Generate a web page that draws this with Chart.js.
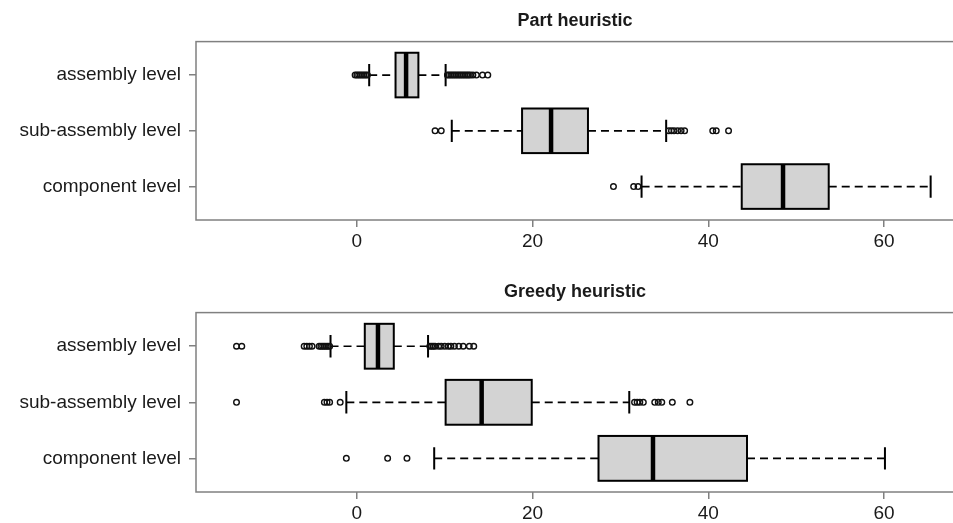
<!DOCTYPE html>
<html>
<head>
<meta charset="utf-8">
<title>Heuristic boxplots</title>
<script src="https://cdn.jsdelivr.net/npm/chart.js@4.4.0/dist/chart.umd.min.js"></script>
<style>
  html, body { margin: 0; padding: 0; background: #fff; }
  body { width: 953px; height: 523px; position: relative; overflow: hidden; }
  .panel { position: absolute; left: 0; width: 953px; }
  #partPanel { top: 0; height: 262px; }
  #greedyPanel { top: 271px; height: 252px; }
</style>
</head>
<body>
<div class="panel" id="partPanel"><canvas id="partChart"></canvas></div>
<div class="panel" id="greedyPanel"><canvas id="greedyChart"></canvas></div>
<script>
// rows, top to bottom
const levels = ['assembly level', 'sub-assembly level', 'component level'];
const xTicks = [0, 20, 40, 60];

// Part heuristic: five-number summary per level
const partLow    = [1.4, 10.8, 32.4];
const partQ1     = [4.4, 18.8, 43.8];
const partMedian = [5.6, 22.1, 48.5];
const partQ3     = [7.0, 26.3, 53.7];
const partHigh   = [10.1, 35.2, 65.3];
const partOutliers = [
  [-0.2, 0.0, 0.2, 0.4, 0.6, 0.8, 1.0, 1.2,
   10.3, 10.5, 10.7, 10.9, 11.1, 11.3, 11.5, 11.7, 11.9, 12.1, 12.3, 12.5, 12.7, 12.9, 13.2, 13.6, 14.3, 14.9],
  [8.9, 9.6, 35.5, 35.8, 36.1, 36.5, 36.9, 37.3, 40.5, 40.9, 42.3],
  [29.2, 31.5, 32.0]
];

// Greedy heuristic
const greedyLow    = [-3.0, -1.2, 8.8];
const greedyQ1     = [0.9, 10.1, 27.5];
const greedyMedian = [2.4, 14.2, 33.7];
const greedyQ3     = [4.2, 19.9, 44.4];
const greedyHigh   = [8.1, 31.0, 60.1];
const greedyOutliers = [
  [-13.7, -13.1, -6.0, -5.7, -5.4, -5.1, -4.3, -4.1, -3.9, -3.7, -3.5, -3.3, -3.1,
   8.3, 8.5, 8.7, 8.9, 9.3, 9.6, 10.0, 10.4, 10.7, 11.1, 11.6, 12.1, 12.8, 13.3],
  [-13.7, -3.7, -3.4, -3.1, -1.9, 31.6, 31.9, 32.2, 32.6, 33.9, 34.3, 34.7, 35.9, 37.9],
  [-1.2, 3.5, 5.7]
];

const FONT = "'Liberation Sans', Arial, sans-serif";
const INK = '#1a1a1a';
const FRAME = '#808080';
// the plot region keeps going a little past the right edge of the page
const PLOT_RIGHT = 950;

function boxPlugin(title, stats) {
  return {
    id: 'boxes',
    beforeDatasetsDraw(chart) {
      const { ctx, chartArea, scales: { x, y } } = chart;
      ctx.save();
      // frame: the right side runs past the canvas edge
      ctx.strokeStyle = FRAME;
      ctx.lineWidth = 1.5;
      ctx.strokeRect(chartArea.left, chartArea.top, chartArea.right - chartArea.left + 20, chartArea.bottom - chartArea.top);

      // title centred over the whole plot region
      ctx.fillStyle = INK;
      ctx.font = `bold 18px ${FONT}`;
      ctx.textAlign = 'center';
      ctx.textBaseline = 'middle';
      ctx.fillText(title, (chartArea.left + PLOT_RIGHT) / 2 + 2, chartArea.top - 21);

      stats.median.forEach((med, i) => {
        const yc = y.getPixelForValue(i + 1);
        const half = Math.abs(y.getPixelForValue(i + 1.4) - yc);
        const xLo = x.getPixelForValue(stats.low[i]);
        const xQ1 = x.getPixelForValue(stats.q1[i]);
        const xMed = x.getPixelForValue(med);
        const xQ3 = x.getPixelForValue(stats.q3[i]);
        const xHi = x.getPixelForValue(stats.high[i]);

        // dashed whiskers
        ctx.strokeStyle = '#000';
        ctx.lineWidth = 1.7;
        ctx.setLineDash([8, 5]);
        ctx.beginPath();
        ctx.moveTo(xLo, yc); ctx.lineTo(xQ1, yc);
        ctx.moveTo(xQ3, yc); ctx.lineTo(xHi, yc);
        ctx.stroke();
        ctx.setLineDash([]);

        // staples
        ctx.lineWidth = 2;
        ctx.beginPath();
        ctx.moveTo(xLo, yc - half / 2); ctx.lineTo(xLo, yc + half / 2);
        ctx.moveTo(xHi, yc - half / 2); ctx.lineTo(xHi, yc + half / 2);
        ctx.stroke();

        // box
        ctx.fillStyle = '#d3d3d3';
        ctx.fillRect(xQ1, yc - half, xQ3 - xQ1, 2 * half);
        ctx.strokeRect(xQ1, yc - half, xQ3 - xQ1, 2 * half);

        // median
        ctx.lineWidth = 4.5;
        ctx.beginPath();
        ctx.moveTo(xMed, yc - half); ctx.lineTo(xMed, yc + half);
        ctx.stroke();
      });
      ctx.restore();
    }
  };
}

function makeChart(canvasId, title, stats, outliers, xAxisHeight) {
  const points = [];
  outliers.forEach((row, i) => row.forEach(v => points.push({ x: v, y: i + 1 })));

  return new Chart(document.getElementById(canvasId), {
    type: 'scatter',
    data: {
      datasets: [{
        data: points,
        pointStyle: 'circle',
        pointRadius: 2.8,
        pointBorderWidth: 1.4,
        borderColor: '#111',
        backgroundColor: 'rgba(255,255,255,0)'
      }]
    },
    plugins: [boxPlugin(title, stats)],
    options: {
      responsive: true,
      maintainAspectRatio: false,
      animation: false,
      layout: { padding: { top: 41.6, left: 0, right: 0, bottom: 0 } },
      plugins: {
        legend: { display: false },
        tooltip: { enabled: false },
        title: { display: false }
      },
      scales: {
        x: {
          type: 'linear',
          min: -18.31,
          max: 67.23,
          afterBuildTicks: scale => { scale.ticks = xTicks.map(v => ({ value: v })); },
          afterFit: scale => { scale.height = xAxisHeight; },
          border: { display: false },
          grid: { drawOnChartArea: false, drawTicks: true, tickLength: 7, color: FRAME, lineWidth: 1.5 },
          ticks: { color: INK, font: { family: FONT, size: 19 }, padding: 3, maxRotation: 0, autoSkip: false }
        },
        y: {
          type: 'linear',
          reverse: true,
          min: 0.4,
          max: 3.6,
          afterBuildTicks: scale => { scale.ticks = levels.map((_, i) => ({ value: i + 1 })); },
          afterFit: scale => { scale.width = 196; },
          border: { display: false },
          grid: { drawOnChartArea: false, drawTicks: true, tickLength: 7, color: FRAME, lineWidth: 1.5 },
          ticks: {
            color: INK,
            font: { family: FONT, size: 19 },
            padding: 8,
            autoSkip: false,
            callback: v => levels[v - 1]
          }
        }
      }
    }
  });
}

makeChart('partChart', 'Part heuristic',
  { low: partLow, q1: partQ1, median: partMedian, q3: partQ3, high: partHigh },
  partOutliers, 42);
makeChart('greedyChart', 'Greedy heuristic',
  { low: greedyLow, q1: greedyQ1, median: greedyMedian, q3: greedyQ3, high: greedyHigh },
  greedyOutliers, 31);
</script>
</body>
</html>
